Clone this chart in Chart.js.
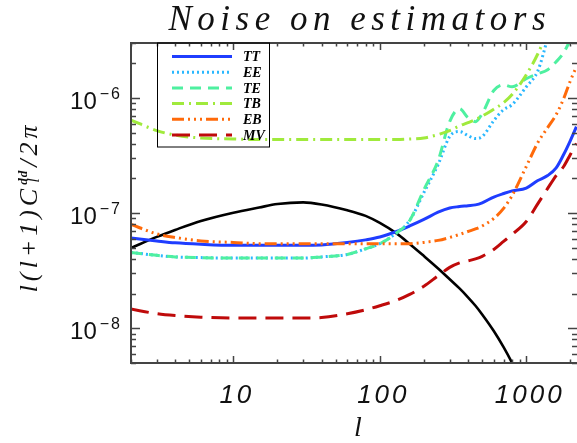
<!DOCTYPE html>
<html>
<head>
<meta charset="utf-8">
<script src="https://cdn.jsdelivr.net/npm/chart.js@4.4.1/dist/chart.umd.min.js"></script>
<style>
    html, body { margin: 0; padding: 0; background: #ffffff; }
    #noise-wrap { width: 577px; height: 443px; }
</style>
</head>
<body>
<div id="noise-wrap"><canvas id="noise-chart" width="577" height="443"></canvas></div>
<script>
// Multipole grid shared by every curve
const ells = [2, 3, 4, 6, 10, 15, 20, 30, 40, 60, 80, 100, 130, 160, 200, 250, 300, 350,
    400, 450, 500, 600, 700, 800, 1000, 1200, 1400, 1600, 1800, 2000, 2200];

// Lensing deflection power l(l+1)C_l^dd/2pi (no legend entry)
const signalDD = [4.99e-8, 6.22e-8, 7.15e-8, 8.56e-8, 1.01e-7, 1.12e-7, 1.20e-7, 1.24e-7, 1.19e-7, 1.06e-7,
    9.46e-8, 8.22e-8, 6.67e-8, 5.40e-8, 4.24e-8, 3.31e-8, 2.67e-8, 2.22e-8, 1.86e-8, 1.57e-8,
    1.32e-8, 9.48e-9, 6.86e-9, 5.01e-9, 2.79e-9, null, null, null, null, null, null];

// Estimator noise curves
const noiseTT = [6.10e-8, 5.74e-8, 5.52e-8, 5.36e-8, 5.25e-8, 5.25e-8, 5.25e-8, 5.25e-8, 5.30e-8, 5.57e-8,
    5.86e-8, 6.20e-8, 6.93e-8, 7.74e-8, 8.82e-8, 1.02e-7, 1.11e-7, 1.14e-7, 1.16e-7, 1.18e-7,
    1.23e-7, 1.38e-7, 1.48e-7, 1.56e-7, 1.65e-7, 1.92e-7, 2.12e-7, 2.47e-7, 3.23e-7, 4.27e-7, 5.63e-7];
const noiseEE = [4.56e-8, 4.30e-8, 4.17e-8, 4.11e-8, 4.07e-8, 4.07e-8, 4.07e-8, 4.07e-8, 4.17e-8, 4.38e-8,
    4.90e-8, 5.43e-8, 6.73e-8, 8.64e-8, 1.51e-7, 2.64e-7, 4.63e-7, 5.11e-7, 4.71e-7, 4.44e-7,
    4.62e-7, 6.36e-7, 7.92e-7, 8.75e-7, 1.25e-6, 1.72e-6, 3.3e-6, null, null, null, null];
const noiseTE = [4.56e-8, 4.30e-8, 4.17e-8, 4.11e-8, 4.07e-8, 4.07e-8, 4.07e-8, 4.07e-8, 4.17e-8, 4.38e-8,
    4.90e-8, 5.43e-8, 6.73e-8, 8.64e-8, 1.60e-7, 2.86e-7, 6.24e-7, 8.07e-7, 6.75e-7, 6.23e-7,
    7.31e-7, 1.16e-6, 1.30e-6, 1.25e-6, 1.47e-6, 1.62e-6, 1.76e-6, 2.06e-6, 2.47e-6, 3.2e-6, null];
const noiseTB = [6.43e-7, 5.21e-7, 4.76e-7, 4.49e-7, 4.40e-7, 4.35e-7, 4.35e-7, 4.35e-7, 4.35e-7, 4.35e-7,
    4.35e-7, 4.35e-7, 4.35e-7, 4.40e-7, 4.49e-7, 4.81e-7, 5.21e-7, 5.72e-7, 6.11e-7, 6.49e-7,
    6.95e-7, 7.99e-7, 9.10e-7, 1.07e-6, 1.59e-6, 2.42e-6, 3.83e-6, null, null, null, null];
const noiseEB = [7.98e-8, 6.60e-8, 6.15e-8, 5.74e-8, 5.57e-8, 5.43e-8, 5.43e-8, 5.43e-8, 5.43e-8, 5.43e-8,
    5.43e-8, 5.43e-8, 5.41e-8, 5.43e-8, 5.57e-8, 5.80e-8, 6.15e-8, 6.53e-8, 6.93e-8, 7.29e-8,
    7.74e-8, 8.99e-8, 1.10e-7, 1.42e-7, 2.54e-7, 4.10e-7, 5.53e-7, 7.16e-7, 9.86e-7, 1.41e-6, 1.87e-6];
const noiseMV = [1.47e-8, 1.34e-8, 1.29e-8, 1.25e-8, 1.23e-8, 1.23e-8, 1.23e-8, 1.23e-8, 1.24e-8, 1.34e-8,
    1.45e-8, 1.57e-8, 1.75e-8, 1.97e-8, 2.32e-8, 2.86e-8, 3.38e-8, 3.70e-8, 3.85e-8, 4.01e-8,
    4.22e-8, 4.84e-8, 5.68e-8, 6.53e-8, 8.47e-8, 1.21e-7, 1.64e-7, 2.12e-7, 2.54e-7, 3.23e-7, 4.02e-7];

// Axis ranges and labelled decades
const xRange = [2, 2220];
const yRange = [5e-9, 3e-6];
const xTickLabels = [10, 100, 1000];
const yTickExponents = [-8, -7, -6];

const titleText = 'Noise on estimators';
const axisColor = '#444444';

/**
 * Turn a value list into {x, y} points on the shared l grid, dropping gaps
 */
function toPoints(values) {
    return ells.map((l, i) => ({ x: l, y: values[i] })).filter(p => p.y !== null);
}

/**
 * All k * 10^n positions inside [min, max] for log tick marks
 */
function logTickValues(min, max) {
    const out = [];
    for (let n = Math.floor(Math.log10(min)); n <= Math.ceil(Math.log10(max)); n++) {
        for (let k = 1; k <= 9; k++) {
            const v = k * Math.pow(10, n);
            if (v >= min * 0.999 && v <= max * 1.001) out.push({ v, major: k === 1 });
        }
    }
    return out;
}

/**
 * Draws the plot frame, inward ticks on all four sides, tick labels,
 * axis titles, chart title and the boxed legend.
 */
const frameAndLabels = {
    id: 'frameAndLabels',
    afterDatasetsDraw(chart) {
        const { ctx, chartArea: a, scales } = chart;
        const xs = scales.x, ys = scales.y;
        ctx.save();

        // frame (right edge sits just off the canvas)
        ctx.strokeStyle = axisColor;
        ctx.lineWidth = 2;
        ctx.strokeRect(a.left, a.top, a.right - a.left + 2, a.bottom - a.top);

        // tick marks
        ctx.lineWidth = 1.5;
        logTickValues(xRange[0], xRange[1]).forEach(t => {
            const px = Math.round(xs.getPixelForValue(t.v)) + 0.5;
            const len = t.major ? 7 : 3.5;
            ctx.beginPath();
            ctx.moveTo(px, a.bottom); ctx.lineTo(px, a.bottom - len);
            ctx.moveTo(px, a.top); ctx.lineTo(px, a.top + len);
            ctx.stroke();
        });
        logTickValues(yRange[0], yRange[1]).forEach(t => {
            const py = Math.round(ys.getPixelForValue(t.v)) + 0.5;
            const len = t.major ? 9 : 5;
            ctx.beginPath();
            ctx.moveTo(a.left, py); ctx.lineTo(a.left + len, py);
            ctx.moveTo(a.right, py); ctx.lineTo(a.right - len, py);
            ctx.stroke();
        });

        // x tick labels
        ctx.fillStyle = '#111111';
        ctx.textBaseline = 'alphabetic';
        ctx.font = 'italic 26px "Liberation Sans"';
        ctx.letterSpacing = '3px';
        xTickLabels.forEach(v => {
            const px = xs.getPixelForValue(v);
            const w = ctx.measureText(String(v)).width - 3;
            ctx.fillText(String(v), px - w / 2 + 2, 403);
        });

        // y tick labels as 10 with a raised exponent
        yTickExponents.forEach(e => {
            const py = ys.getPixelForValue(Math.pow(10, e));
            ctx.letterSpacing = '2px';
            ctx.font = '16px "Liberation Sans"';
            const expText = '\u2212' + Math.abs(e);
            const ew = ctx.measureText(expText).width - 2;
            ctx.fillText(expText, 120 - ew, py + 1);
            ctx.letterSpacing = '0px';
            ctx.font = '24px "Liberation Sans"';
            const bw = ctx.measureText('10').width;
            ctx.fillText('10', 120 - ew - 3 - bw, py + 11);
        });

        // x axis title
        ctx.letterSpacing = '0px';
        ctx.font = 'italic 28px "Liberation Serif"';
        ctx.textAlign = 'center';
        ctx.fillText('l', 358, 436);
        ctx.textAlign = 'left';

        // y axis title, rotated: l(l+1) C_l^dd / 2pi
        ctx.save();
        ctx.translate(37, 207);
        ctx.rotate(-Math.PI / 2);
        const mainFont = 'italic 26px "Liberation Serif"';
        const sp = '4px';
        ctx.font = mainFont; ctx.letterSpacing = sp;
        const partA = 'l(l+1)C', partB = '/2\u03c0';
        const wA = ctx.measureText(partA).width;
        const wB = ctx.measureText(partB).width;
        ctx.font = 'italic 17px "Liberation Serif"'; ctx.letterSpacing = '0px';
        const wSub = ctx.measureText('l').width;
        ctx.font = 'bold italic 13px "Liberation Serif"'; ctx.letterSpacing = '1px';
        const wSup = ctx.measureText('dd').width;
        const wMid = Math.max(wSub, wSup) + 3;
        let tx = -(wA + wMid + wB) / 2;
        ctx.font = mainFont; ctx.letterSpacing = sp;
        ctx.fillText(partA, tx, 0);
        tx += wA;
        ctx.font = 'bold italic 13px "Liberation Serif"'; ctx.letterSpacing = '1px';
        ctx.fillText('dd', tx, -10);
        ctx.font = 'italic 17px "Liberation Serif"'; ctx.letterSpacing = '0px';
        ctx.fillText('l', tx + 2, 2);
        tx += wMid;
        ctx.font = mainFont; ctx.letterSpacing = sp;
        ctx.fillText(partB, tx, 0);
        ctx.restore();

        // chart title with wide tracking
        ctx.font = 'italic 35px "Liberation Serif"';
        ctx.letterSpacing = '5.5px';
        const tw = ctx.measureText(titleText).width - 5.5;
        ctx.fillText(titleText, 357 - tw / 2, 30);

        // legend box
        ctx.letterSpacing = '0px';
        ctx.strokeStyle = '#000000';
        ctx.lineWidth = 1;
        ctx.strokeRect(157.5, a.top, 112, 104);
        ctx.font = 'bold italic 14px "Liberation Serif"';
        ctx.textBaseline = 'middle';
        chart.data.datasets.filter(d => !d.noLegend).forEach((d, i) => {
            const ry = 56.5 + i * 15.7;
            ctx.save();
            ctx.strokeStyle = d.borderColor;
            ctx.lineWidth = d.borderWidth;
            ctx.setLineDash(d.borderDash || []);
            ctx.beginPath();
            ctx.moveTo(172, ry); ctx.lineTo(232, ry);
            ctx.stroke();
            ctx.restore();
            ctx.fillStyle = '#000000';
            ctx.fillText(d.label, 243, ry + 1);
        });

        ctx.restore();
    }
};

/**
 * Build one line dataset
 */
function lineSet(label, values, color, dash, width, order) {
    return {
        label,
        data: toPoints(values),
        borderColor: color,
        borderDash: dash,
        borderWidth: width,
        pointRadius: 0,
        fill: false,
        cubicInterpolationMode: 'monotone',
        order
    };
}

const datasets = [
    lineSet('TT', noiseTT, '#1f3dff', [], 3, 6),
    lineSet('EE', noiseEE, '#2ab8ff', [2, 3], 3, 5),
    lineSet('TE', noiseTE, '#4ef0a0', [11, 7], 3, 4),
    lineSet('TB', noiseTB, '#a0ea3c', [12, 5, 2, 5], 3, 3),
    lineSet('EB', noiseEB, '#ff6a0a', [12, 4, 2, 4, 2, 4, 2, 4], 3, 2),
    lineSet('MV', noiseMV, '#bf0a0a', [18, 9], 3, 1),
    Object.assign(lineSet('dd', signalDD, '#000000', [], 2.6, 7), { noLegend: true })
];

const ctx = document.getElementById('noise-chart').getContext('2d');
new Chart(ctx, {
    type: 'line',
    data: { datasets },
    options: {
        responsive: false,
        animation: false,
        layout: { padding: { left: 131, top: 43, right: 0, bottom: 80 } },
        scales: {
            x: { type: 'logarithmic', min: xRange[0], max: xRange[1], display: false },
            y: { type: 'logarithmic', min: yRange[0], max: yRange[1], display: false }
        },
        plugins: {
            legend: { display: false },
            tooltip: { enabled: false },
            title: { display: false }
        }
    },
    plugins: [frameAndLabels]
});
</script>
</body>
</html>
